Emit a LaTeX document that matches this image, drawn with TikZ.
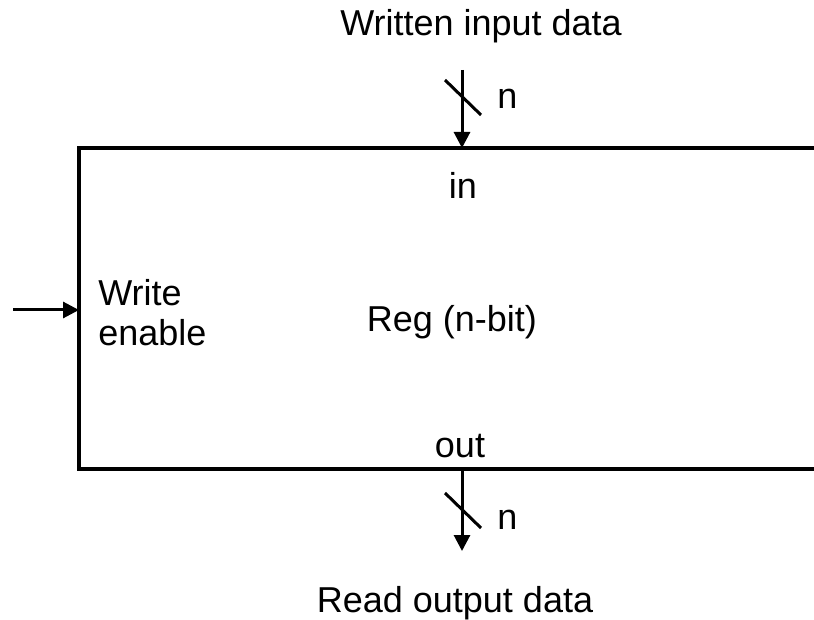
\documentclass[tikz,border=0pt]{standalone}
\usepackage{fontspec}
\setmainfont{Liberation Sans}
\usetikzlibrary{arrows.meta}
\begin{document}
\begin{tikzpicture}[x=0.5pt,y=-0.5pt,
  lbl/.style={inner sep=0pt,font=\fontsize{18}{20}\selectfont},
  sig/.style={line width=1.5pt,-{Triangle[length=8pt,width=8pt]}},
  slash/.style={line width=1.5pt}]
\useasboundingbox (0,0) rectangle (814,620);
\draw[line width=2pt] (830,148) -- (79,148) -- (79,469) -- (830,469);
\node[lbl,anchor=base] (win) at (481,36) {Written input data};
\coordinate (ti) at (462,70);
\coordinate (bi) at (462,148);
\draw[sig] (ti) -- (bi);
\coordinate (s1a) at (445,80);
\coordinate (s1b) at (481,115);
\draw[slash] (s1a) -- (s1b);
\node[lbl,anchor=base west] (n1) at (497,109) {n};
\node[lbl,anchor=base] (in) at (463,199) {in};
\node[lbl,anchor=base] (reg) at (452,331) {Reg (n-bit)};
\node[lbl,align=left,anchor=north west] (we) at (98,279) {Write\\enable};
\coordinate (wa) at (13,310);
\coordinate (wb) at (79,310);
\draw[sig] (wa) -- (wb);
\node[lbl,anchor=base] (out) at (460,457) {out};
\coordinate (to) at (462,469);
\coordinate (bo) at (462,551);
\draw[sig] (to) -- (bo);
\coordinate (s2a) at (445,493);
\coordinate (s2b) at (481,528);
\draw[slash] (s2a) -- (s2b);
\node[lbl,anchor=base west] (n2) at (497,529) {n};
\node[lbl,anchor=base] (rod) at (455,612) {Read output data};
\end{tikzpicture}
\end{document}
